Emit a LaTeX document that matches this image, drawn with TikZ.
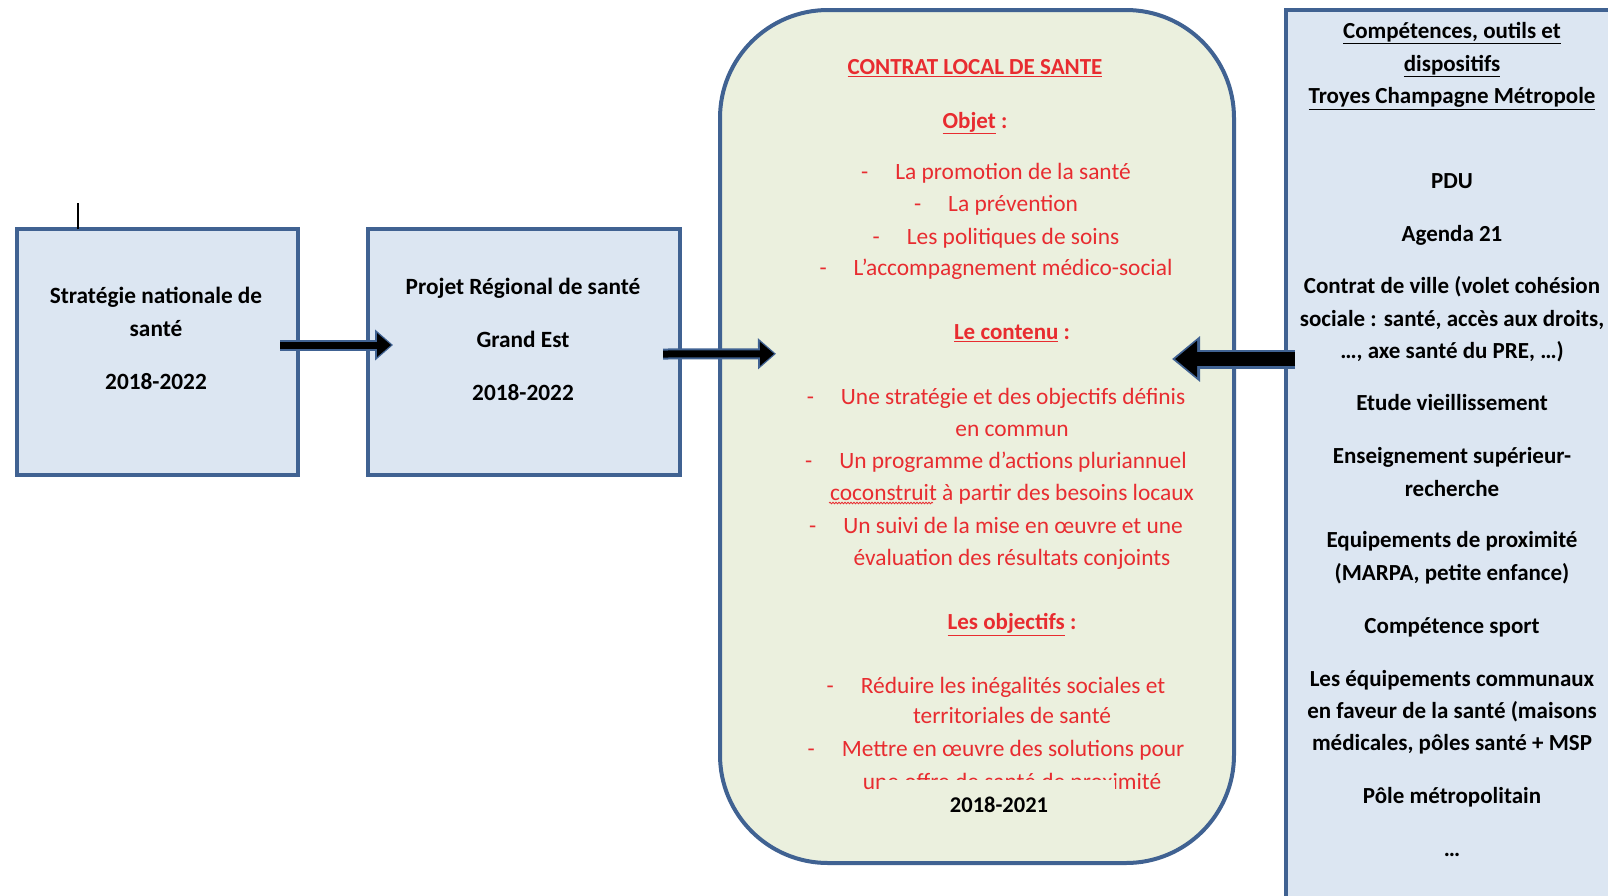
\documentclass[tikz,border=0pt]{standalone}
\usepackage{fontspec}
\setmainfont{Carlito}
\usetikzlibrary{arrows.meta, decorations.pathmorphing}

\definecolor{boxfill}{RGB}{220,230,242}
\definecolor{boxline}{RGB}{64,98,146}
\definecolor{clsfill}{RGB}{235,240,222}
\definecolor{clsred}{RGB}{232,44,48}

\tikzset{
  bluebox/.style={draw=boxline, line width=4pt, fill=boxfill, outer sep=0pt, inner sep=0pt},
  boxtext/.style={font=\fontsize{23.3}{32}\selectfont\bfseries, text height=16pt, text depth=5pt, inner sep=0pt, yshift=-2.5pt},
  redtext/.style={text=clsred, font=\fontsize{23.4}{32}\selectfont, text height=16pt, text depth=5pt, inner sep=0pt, yshift=-2.5pt},
  redhead/.style={redtext, font=\fontsize{23}{32}\selectfont\bfseries},
  tcmtext/.style={font=\fontsize{23}{32}\selectfont\bfseries, text height=16pt, text depth=5pt, inner sep=0pt, yshift=-2pt},
  arrowback/.style={draw=boxline, line width=11pt, -{Triangle[length=18pt,width=30pt]}},
  arrowfront/.style={draw=black, line width=7pt, shorten >=2pt, -{Triangle[length=14pt,width=23pt]}},
  bigback/.style={draw=boxline, line width=19pt, -{Triangle[length=28pt,width=44pt]}},
  bigfront/.style={draw=black, line width=14pt, shorten >=3pt, -{Triangle[length=22pt,width=35pt]}}
}

\begin{document}
\begin{tikzpicture}[x=1pt, y=-1pt]
  \useasboundingbox (0,0) rectangle (1608,895);
  \clip (0,0) rectangle (1608,895);

  % Boxes
  \node[bluebox, minimum width=281pt, minimum height=246pt] (snat) at (157,352) {};
  \node[bluebox, minimum width=312pt, minimum height=246pt] (prs) at (524,352) {};
  \node[bluebox, fill=clsfill, rounded corners=108pt, minimum width=514pt, minimum height=853pt] (cls) at (977,436.5) {};
  \node[bluebox, minimum width=360pt, minimum height=930pt] (tcm) at (1466,475) {};

  % Small mark above the first box
  \coordinate (tick) at ([xshift=-79pt]snat.north);
  \draw[line width=2.5pt] (tick) -- ++(0,-26);

  % Arrow ends
  \coordinate (a1s) at ([xshift=-17.5pt,yshift=7pt]snat.east);
  \coordinate (a1e) at ([xshift=25pt,yshift=7pt]prs.west);
  \coordinate (a2s) at ([xshift=-17pt,yshift=-2pt]prs.east);
  \coordinate (a2e) at ([xshift=56pt,yshift=82.7pt]cls.west);
  \coordinate (a3s) at ([xshift=9pt,yshift=116pt]tcm.west);
  \coordinate (a3e) at ([xshift=-62pt,yshift=77.5pt]cls.east);

  % Arrows
  \foreach \a/\b in {a1s/a1e, a2s/a2e}{
    \draw[arrowback] (\a) -- (\b);
    \draw[arrowfront] (\a) -- (\b);
  }
  \draw[bigback] (a3s) -- (a3e);
  \draw[bigfront] (a3s) -- (a3e);

  % Left boxes
  \node[boxtext] (snat1) at (156,295.3) {Stratégie nationale de};
  \node[boxtext] (snat2) at (156,328.2) {santé};
  \node[boxtext] (snat3) at (156,381.5) {2018-2022};
  \node[boxtext] (prs1) at (523,286.1) {Projet Régional de santé};
  \node[boxtext] (prs2) at (523,339.4) {Grand Est};
  \node[boxtext] (prs3) at (523,392.8) {2018-2022};

  % Contrat local de sante
  \node[redhead] (clstitle) at (975,66.7) {\underline{CONTRAT LOCAL DE SANTE}};
  \node[redhead] (objet) at (975,120) {\underline{Objet} :};
  \node[redhead] (contenu) at (1012,331.2) {\underline{Le contenu} :};
  \node[redhead] (objectifs) at (1012,621.5) {\underline{Les objectifs} :};
  \foreach \y/\t [count=\i] in {171.3/La promotion de la santé, 203.9/La prévention,
      236.0/Les politiques de soins, 267.7/L’accompagnement médico-social,
      396.9/Une stratégie et des objectifs définis, 460.4/Un programme d’actions pluriannuel,
      525.1/Un suivi de la mise en œuvre et une, 685.0/Réduire les inégalités sociales et,
      748.6/Mettre en œuvre des solutions pour}
    \node[redtext] (item\i) at (996,\y) {-\hspace{27pt}\t};
  \foreach \y/\t [count=\i] in {428.7/en commun, 492.2/coconstruit à partir des besoins locaux,
      557.9/évaluation des résultats conjoints, 715.8/territoriales de santé,
      781.4/une offre de santé de proximité}
    \node[redtext] (more\i) at (1012,\y) {\t};
  \draw[clsred, line width=0.8pt, decorate, decoration={snake, amplitude=0.8pt, segment length=3pt}]
    (829,503) -- (933,503);
  \node[fill=clsfill, minimum width=232pt, minimum height=50pt, inner sep=0pt,
    font=\fontsize{22.5}{32}\selectfont\bfseries] (clsyear) at (999,805) {2018-2021};

  % Troyes Champagne Metropole
  \foreach \y/\t [count=\i] in {30.8/\underline{Compétences, outils et}, 63.6/\underline{dispositifs},
      96.4/\underline{Troyes Champagne Métropole}, 180.5/PDU, 233.8/Agenda 21,
      286.1/Contrat de ville (volet cohésion, 318.9/{sociale : santé, accès aux droits,},
      350.7/{…, axe santé du PRE, …)}, 403.0/Etude vieillissement,
      456.4/Enseignement supérieur-, 489.2/recherche, 540.4/Equipements de proximité,
      573.3/{(MARPA, petite enfance)}, 625.6/Compétence sport,
      678.9/Les équipements communaux, 710.7/en faveur de la santé (maisons,
      742.5/{médicales, pôles santé + MSP}, 795.8/Pôle métropolitain, 849.1/…}
    \node[tcmtext] (tcm\i) at (1452,\y) {\t};
\end{tikzpicture}
\end{document}
